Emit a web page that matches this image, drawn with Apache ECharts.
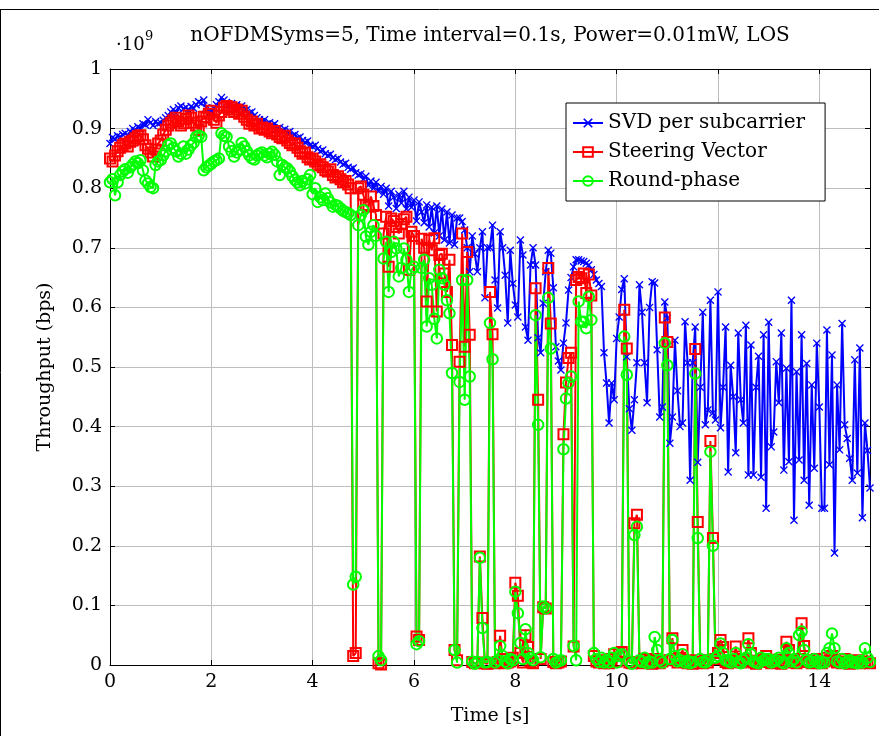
<!DOCTYPE html>
<html>
<head>
<meta charset="utf-8">
<script src="https://cdn.jsdelivr.net/npm/echarts@6/dist/echarts.min.js"></script>
<style>
  html, body { margin: 0; padding: 0; background: #fff; }
  #chart { width: 879px; height: 736px; }
</style>
</head>
<body>
<div id="chart"></div>
<script>
// samples every 0.05 s from 0 to 15 s, throughput in units of 1e9 bps
const timeStep = 0.05;

const svdValues = [
  0.875,0.885,0.882,0.888,0.886,0.89,0.892,0.888,0.895,0.9,0.897,0.903,0.9,0.908,0.906,0.915,0.91,0.905,0.912,0.908,
  0.91,0.914,0.918,0.922,0.928,0.932,0.926,0.935,0.938,0.933,0.936,0.93,0.937,0.934,0.94,0.945,0.942,0.948,0.935,0.925,
  0.93,0.934,0.94,0.945,0.952,0.948,0.944,0.938,0.942,0.936,0.94,0.935,0.938,0.93,0.932,0.926,0.928,0.922,0.918,0.915,
  0.912,0.915,0.908,0.91,0.905,0.908,0.9,0.902,0.897,0.899,0.893,0.895,0.888,0.89,0.884,0.886,0.88,0.877,0.879,0.872,
  0.87,0.872,0.866,0.862,0.864,0.858,0.855,0.857,0.851,0.848,0.85,0.844,0.84,0.842,0.835,0.832,0.834,0.826,0.822,0.824,
  0.815,0.82,0.805,0.812,0.8,0.81,0.795,0.803,0.79,0.8,0.77,0.795,0.785,0.766,0.79,0.775,0.795,0.765,0.785,0.768,
  0.78,0.745,0.777,0.76,0.742,0.772,0.735,0.768,0.725,0.77,0.72,0.765,0.713,0.76,0.708,0.755,0.705,0.75,0.75,0.744,
  0.73,0.70,0.66,0.72,0.69,0.66,0.70,0.727,0.616,0.70,0.70,0.738,0.646,0.599,0.727,0.70,0.654,0.574,0.696,0.64,
  0.604,0.584,0.713,0.688,0.567,0.545,0.671,0.70,0.671,0.549,0.524,0.607,0.66,0.696,0.691,0.633,0.534,0.51,0.495,0.54,
  0.574,0.629,0.65,0.668,0.68,0.68,0.678,0.677,0.674,0.671,0.663,0.655,0.646,0.64,0.635,0.524,0.473,0.406,0.473,0.445,
  0.548,0.584,0.63,0.648,0.517,0.43,0.394,0.445,0.507,0.638,0.592,0.507,0.44,0.6,0.643,0.641,0.529,0.416,0.433,0.609,
  0.582,0.372,0.416,0.545,0.46,0.40,0.406,0.576,0.507,0.31,0.507,0.567,0.34,0.466,0.592,0.403,0.428,0.612,0.423,0.411,
  0.626,0.398,0.466,0.567,0.324,0.503,0.45,0.356,0.557,0.445,0.406,0.57,0.319,0.537,0.319,0.466,0.518,0.315,0.554,0.263,
  0.575,0.366,0.391,0.509,0.44,0.557,0.327,0.498,0.341,0.612,0.243,0.492,0.344,0.554,0.31,0.506,0.268,0.47,0.33,0.54,
  0.433,0.263,0.263,0.562,0.336,0.52,0.188,0.47,0.361,0.573,0.403,0.38,0.347,0.31,0.512,0.322,0.532,0.247,0.406,0.36,
  0.297
];

const steeringValues = [
  0.85,0.845,0.855,0.862,0.868,0.872,0.875,0.87,0.878,0.88,0.884,0.887,0.889,0.882,0.872,0.866,0.86,0.853,0.865,0.875,
  0.88,0.89,0.898,0.905,0.91,0.914,0.918,0.912,0.905,0.909,0.916,0.922,0.918,0.91,0.905,0.898,0.912,0.92,0.918,0.925,
  0.93,0.915,0.91,0.922,0.928,0.935,0.938,0.932,0.936,0.928,0.932,0.925,0.93,0.92,0.915,0.908,0.912,0.905,0.908,0.9,
  0.902,0.898,0.9,0.895,0.892,0.896,0.89,0.886,0.884,0.888,0.88,0.876,0.872,0.875,0.868,0.862,0.858,0.86,0.852,0.848,
  0.85,0.845,0.838,0.84,0.835,0.83,0.828,0.832,0.822,0.818,0.82,0.815,0.81,0.812,0.806,0.8,0.015,0.02,0.8,0.803,
  0.789,0.772,0.769,0.786,0.77,0.755,0.003,0.001,0.724,0.752,0.668,0.749,0.745,0.735,0.724,0.74,0.748,0.752,0.663,0.727,
  0.72,0.048,0.042,0.715,0.70,0.61,0.713,0.696,0.716,0.593,0.688,0.69,0.657,0.626,0.68,0.537,0.025,0.008,0.509,0.724,
  0.534,0.693,0.554,0.005,0.003,0.004,0.182,0.079,0.003,0.002,0.626,0.555,0.003,0.005,0.049,0.01,0.003,0.004,0.006,0.012,
  0.138,0.116,0.02,0.004,0.05,0.03,0.005,0.003,0.632,0.445,0.01,0.097,0.095,0.666,0.573,0.005,0.003,0.004,0.006,0.387,
  0.474,0.515,0.524,0.031,0.646,0.651,0.649,0.657,0.624,0.655,0.62,0.015,0.006,0.004,0.008,0.003,0.005,0.003,0.01,0.018,
  0.006,0.02,0.022,0.596,0.531,0.004,0.003,0.238,0.252,0.005,0.003,0.01,0.004,0.008,0.002,0.01,0.005,0.003,0.006,0.583,
  0.542,0.008,0.045,0.01,0.004,0.012,0.025,0.005,0.003,0.008,0.002,0.53,0.24,0.006,0.003,0.008,0.004,0.376,0.213,0.01,
  0.02,0.042,0.03,0.005,0.003,0.008,0.005,0.031,0.006,0.004,0.01,0.006,0.045,0.02,0.004,0.002,0.007,0.01,0.005,0.015,
  0.008,0.003,0.004,0.009,0.006,0.002,0.005,0.039,0.025,0.004,0.008,0.003,0.01,0.07,0.032,0.005,0.008,0.003,0.006,0.01,
  0.004,0.003,0.006,0.012,0.008,0.015,0.008,0.004,0.006,0.003,0.01,0.005,0.002,0.006,0.004,0.008,0.003,0.005,0.006,0.004,
  0.003
];

const roundPhaseValues = [
  0.81,0.815,0.788,0.81,0.822,0.828,0.832,0.826,0.835,0.84,0.845,0.842,0.847,0.83,0.813,0.808,0.802,0.80,0.839,0.845,
  0.847,0.855,0.862,0.872,0.875,0.868,0.862,0.853,0.858,0.87,0.858,0.865,0.872,0.876,0.886,0.888,0.886,0.83,0.835,0.838,
  0.841,0.845,0.847,0.85,0.892,0.888,0.886,0.87,0.862,0.853,0.86,0.865,0.876,0.87,0.862,0.855,0.85,0.848,0.855,0.858,
  0.86,0.855,0.852,0.858,0.861,0.856,0.845,0.822,0.839,0.835,0.833,0.828,0.82,0.814,0.81,0.805,0.812,0.808,0.815,0.822,
  0.79,0.8,0.777,0.785,0.78,0.791,0.783,0.776,0.769,0.772,0.77,0.766,0.762,0.76,0.758,0.755,0.135,0.148,0.738,0.755,
  0.763,0.719,0.705,0.727,0.738,0.72,0.015,0.008,0.682,0.71,0.626,0.693,0.71,0.699,0.652,0.666,0.699,0.68,0.626,0.663,
  0.668,0.035,0.04,0.666,0.68,0.568,0.649,0.638,0.581,0.548,0.663,0.649,0.638,0.612,0.59,0.49,0.025,0.004,0.475,0.646,
  0.445,0.646,0.484,0.006,0.002,0.005,0.18,0.062,0.004,0.005,0.574,0.513,0.004,0.008,0.032,0.015,0.006,0.003,0.01,0.008,
  0.123,0.087,0.037,0.01,0.06,0.02,0.012,0.008,0.587,0.403,0.013,0.098,0.095,0.616,0.531,0.01,0.004,0.006,0.008,0.362,
  0.447,0.473,0.484,0.032,0.008,0.61,0.576,0.576,0.565,0.618,0.579,0.02,0.01,0.005,0.012,0.004,0.008,0.004,0.012,0.02,
  0.004,0.015,0.018,0.551,0.487,0.006,0.002,0.218,0.232,0.008,0.005,0.012,0.003,0.006,0.004,0.047,0.025,0.008,0.004,0.54,
  0.503,0.01,0.042,0.015,0.006,0.008,0.018,0.004,0.007,0.003,0.005,0.489,0.213,0.01,0.005,0.004,0.008,0.358,0.2,0.012,
  0.015,0.036,0.02,0.008,0.006,0.004,0.01,0.02,0.005,0.003,0.008,0.012,0.035,0.018,0.006,0.004,0.003,0.012,0.008,0.01,
  0.01,0.004,0.006,0.008,0.012,0.005,0.003,0.028,0.02,0.006,0.01,0.004,0.05,0.056,0.025,0.008,0.004,0.006,0.01,0.005,
  0.003,0.005,0.004,0.02,0.028,0.053,0.028,0.006,0.004,0.01,0.003,0.006,0.008,0.004,0.005,0.003,0.007,0.004,0.028,0.012,
  0.005
];

const seriesNames = ["SVD per subcarrier", "Steering Vector", "Round-phase"];
const titleText = "nOFDMSyms=5, Time interval=0.1s, Power=0.01mW, LOS";

const FONT = "DejaVu Serif";
const xMark = "path://M0,1.2L1.2,0L5,3.8L8.8,0L10,1.2L6.2,5L10,8.8L8.8,10L5,6.2L1.2,10L0,8.8L3.8,5Z";

function toPairs(values) {
  return values.map((v, i) => [+(i * timeStep).toFixed(2), v]);
}

let chartDom = document.getElementById("chart");
let myChart = echarts.init(chartDom);
let option;

const axisLine = { onZero: false, lineStyle: { color: "#000", width: 1 } };
const axisTick = { inside: true, length: 5, lineStyle: { color: "#000", width: 1 } };
const labelStyle = { color: "#000", fontFamily: FONT, fontSize: 19 };

option = {
  animation: false,
  backgroundColor: "#fff",
  grid: { left: 110, right: 9, top: 69, bottom: 71 },
  graphic: [
    { type: "line", shape: { x1: 0, y1: 9.5, x2: 879, y2: 9.5 }, style: { stroke: "#000", lineWidth: 1 } },
    { type: "line", shape: { x1: 0.5, y1: 9, x2: 0.5, y2: 736 }, style: { stroke: "#000", lineWidth: 1 } },
    {
      type: "text", x: 490, y: 36,
      style: { text: titleText, textAlign: "center", textVerticalAlign: "middle", fontFamily: FONT, fontSize: 20, fill: "#000" }
    },
    {
      type: "text", x: 116, y: 45,
      style: { text: "\u00b710", textVerticalAlign: "middle", fontFamily: FONT, fontSize: 18, fill: "#000" }
    },
    {
      type: "text", x: 145, y: 37,
      style: { text: "9", textVerticalAlign: "middle", fontFamily: FONT, fontSize: 13, fill: "#000" }
    }
  ],
  legend: {
    orient: "vertical",
    left: 566,
    top: 103,
    backgroundColor: "#fff",
    borderColor: "#000",
    borderWidth: 1,
    borderRadius: 0,
    padding: [10, 20, 10, 6],
    itemGap: 9,
    itemWidth: 30,
    itemHeight: 12,
    textStyle: { color: "#000", fontFamily: FONT, fontSize: 20 },
    data: seriesNames
  },
  xAxis: [
    {
      type: "value", min: 0, max: 15, interval: 2, position: "bottom",
      axisLine, axisTick,
      axisLabel: { ...labelStyle, margin: 8, showMaxLabel: false },
      splitLine: { show: true, lineStyle: { color: "#bdbdbd", width: 1 } },
      name: "Time [s]", nameLocation: "middle", nameGap: 42,
      nameTextStyle: { ...labelStyle }
    },
    {
      type: "value", min: 0, max: 15, interval: 2, position: "top",
      axisLine, axisTick, axisLabel: { show: false }, splitLine: { show: false }
    }
  ],
  yAxis: [
    {
      type: "value", min: 0, max: 1, interval: 0.1, position: "left",
      axisLine, axisTick,
      axisLabel: {
        ...labelStyle, margin: 8,
        formatter: v => (v === 0 || v === 1) ? String(v) : v.toFixed(1)
      },
      splitLine: { show: true, lineStyle: { color: "#bdbdbd", width: 1 } },
      name: "Throughput (bps)", nameLocation: "middle", nameGap: 55, nameRotate: 90,
      nameTextStyle: { ...labelStyle }
    },
    {
      type: "value", min: 0, max: 1, interval: 0.1, position: "right",
      axisLine, axisTick, axisLabel: { show: false }, splitLine: { show: false }
    }
  ],
  series: [
    {
      name: seriesNames[0],
      type: "line",
      data: toPairs(svdValues),
      showAllSymbol: true,
      symbol: xMark,
      symbolSize: 8,
      lineStyle: { color: "#0000ff", width: 2 },
      itemStyle: { color: "#0000ff" }
    },
    {
      name: seriesNames[1],
      type: "line",
      data: toPairs(steeringValues),
      showAllSymbol: true,
      symbol: "rect",
      symbolSize: 10,
      lineStyle: { color: "#ff0000", width: 2 },
      itemStyle: { color: "rgba(0,0,0,0)", borderColor: "#ff0000", borderWidth: 2 }
    },
    {
      name: seriesNames[2],
      type: "line",
      data: toPairs(roundPhaseValues),
      showAllSymbol: true,
      symbol: "circle",
      symbolSize: 10.5,
      lineStyle: { color: "#00ff00", width: 2 },
      itemStyle: { color: "rgba(0,0,0,0)", borderColor: "#00ff00", borderWidth: 2 }
    }
  ]
};

option && myChart.setOption(option);
</script>
</body>
</html>
